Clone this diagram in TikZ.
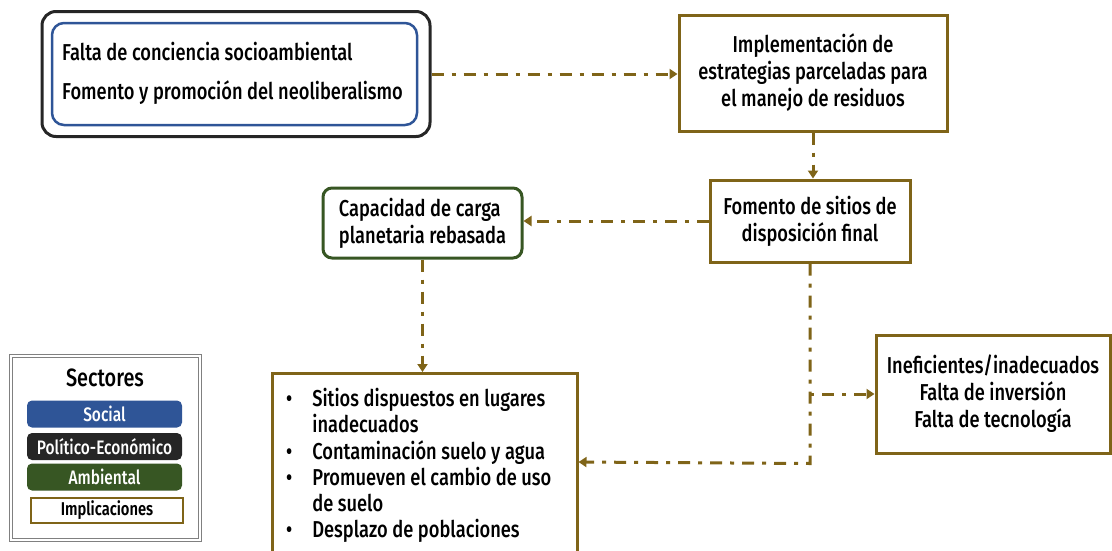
\documentclass[tikz,border=0pt]{standalone}
\usepackage{fontspec}
\setmainfont{Fira Sans Medium}[FakeStretch=0.795, BoldFont=Fira Sans SemiBold]
\usetikzlibrary{arrows.meta}
\definecolor{olive}{HTML}{7F6418}
\definecolor{socblue}{HTML}{2F5597}
\definecolor{polblack}{HTML}{262626}
\definecolor{ambgreen}{HTML}{375623}
\tikzset{
  conn/.style={olive, line width=3pt, dash pattern=on 12pt off 8pt on 4pt off 8pt, -{Triangle[width=10pt,length=8pt]}},
  impbox/.style={draw=olive, line width=3pt, align=center, font=\fontsize{23}{27}\selectfont, inner sep=0pt},
  txt/.style={font=\fontsize{23}{27}\selectfont, inner sep=0pt},
  legbar/.style={rounded corners=5pt, minimum width=155pt, minimum height=27pt, inner sep=0pt, text=white, font=\fontsize{19.5}{20}\selectfont}
}
\begin{document}
\begin{tikzpicture}[x=1pt,y=-1pt]
\useasboundingbox (0,0) rectangle (1112,550);
\clip (0,0) rectangle (1112,550);
% top-left group
\node[draw=black!85, line width=3pt, rounded corners=14pt, minimum width=388pt, minimum height=125pt] (outer) at (236,74) {};
\node[draw=socblue, line width=2.5pt, rounded corners=12pt, minimum width=365pt, minimum height=102pt] (inner) at (234.5,74) {};
\node[txt, anchor=west] (t1) at (62,52) {Falta de conciencia socioambiental};
\node[txt, anchor=west] (t2) at (62,93) {Fomento y promoción del neoliberalismo};
% implication boxes
\node[impbox, minimum width=268pt, minimum height=116pt] (impl) at (813,73) {Implementación de\\estrategias parceladas para\\el manejo de residuos};
\node[impbox, minimum width=200pt, minimum height=82pt] (fom) at (810,221) {Fomento de sitios de\\disposición final};
\node[draw=ambgreen, line width=3pt, rounded corners=9pt, align=left, font=\fontsize{23}{27}\selectfont, inner sep=0pt, minimum width=199pt, minimum height=70pt] (cap) at (422.5,223) {Capacidad de carga\\planetaria rebasada};
\node[impbox, minimum width=305pt, minimum height=185pt, anchor=north] (list) at (424.5,372) {};
\node[anchor=north west, align=left, inner sep=0pt, font=\fontsize{23}{25.8}\selectfont] (items) at (286,388) {%
\begin{tabular}{@{}l@{\hspace{20pt}}l@{}}
\textbullet & Sitios dispuestos en lugares\\
 & inadecuados\\
\textbullet & Contaminación suelo y agua\\
\textbullet & Promueven el cambio de uso\\
 & de suelo\\
\textbullet & Desplazo de poblaciones
\end{tabular}};
\node[impbox, minimum width=234pt, minimum height=118pt] (inef) at (993,394) {Ineficientes/inadecuados\\Falta de inversión\\Falta de tecnología};
% connectors
\draw[conn] (outer.east) -- (outer.east -| impl.west);
\draw[conn] (impl.south) -- (impl.south |- fom.north);
\draw[conn] (fom.west) -- (fom.west -| cap.east);
\draw[conn] (cap.south) -- (cap.south |- list.north);
\draw[conn] (fom.south) -- ++(0,200) -- (list.east |- 0,462);
\coordinate (br) at (fom.south |- inef.west);
\draw[conn, dash pattern=on 4pt off 8pt on 12pt off 8pt] (br) -- (inef.west);
% legend
\node[draw=gray, double=white, double distance=1.5pt, line width=1pt, minimum width=189pt, minimum height=184pt] (legend) at (105.5,448) {};
\node[font=\fontsize{25}{26}\selectfont, inner sep=0pt] (sect) at (105,378) {Sectores};
\node[legbar, fill=socblue] (soc) at (104.5,414) {Social};
\node[legbar, fill=polblack] (pol) at (104.5,446.5) {Político-Económico};
\node[legbar, fill=ambgreen] (amb) at (104.5,477) {Ambiental};
\node[draw=olive, line width=2.5pt, minimum width=152pt, minimum height=25pt, inner sep=0pt, font=\fontsize{18.5}{20}\selectfont\bfseries] (impleg) at (107,510.5) {Implicaciones};
\end{tikzpicture}
\end{document}
